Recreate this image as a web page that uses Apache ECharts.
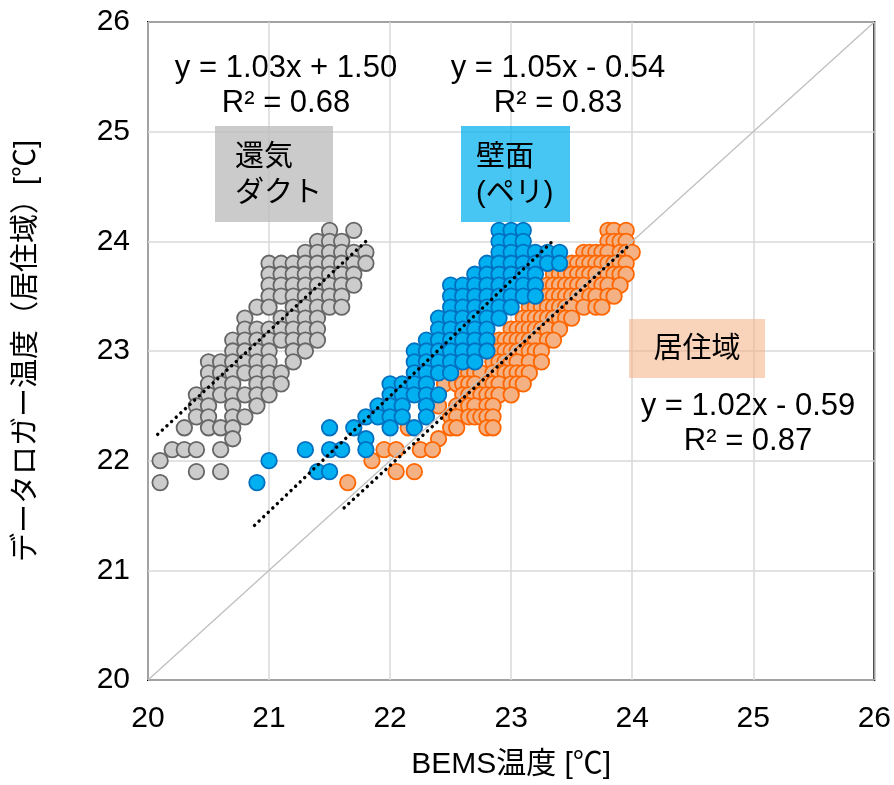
<!DOCTYPE html>
<html>
<head>
<meta charset="utf-8">
<script src="https://cdn.jsdelivr.net/npm/echarts@6/dist/echarts.min.js"></script>
<style>
  html, body { margin: 0; padding: 0; background: #fff; }
  #chart { width: 894px; height: 785px; }
</style>
</head>
<body>
<div id="chart"></div>
<script>
// 還気ダクト [BEMS, logger]
var grayPoints = [
  [21.5, 24.1], [21.7, 24.1],
  [21.4, 24.0], [21.5, 24.0], [21.6, 24.0],
  [21.3, 23.9], [21.4, 23.9], [21.5, 23.9], [21.6, 23.9], [21.7, 23.9], [21.8, 23.9],
  [21.0, 23.8], [21.1, 23.8], [21.2, 23.8], [21.3, 23.8], [21.4, 23.8], [21.5, 23.8], [21.6, 23.8], [21.7, 23.8], [21.8, 23.8],
  [21.0, 23.7], [21.1, 23.7], [21.2, 23.7], [21.3, 23.7], [21.4, 23.7], [21.5, 23.7], [21.6, 23.7], [21.7, 23.7],
  [21.0, 23.6], [21.1, 23.6], [21.2, 23.6], [21.3, 23.6], [21.4, 23.6], [21.5, 23.6], [21.6, 23.6], [21.7, 23.6],
  [21.0, 23.5], [21.1, 23.5], [21.2, 23.5], [21.3, 23.5], [21.4, 23.5], [21.5, 23.5], [21.6, 23.5],
  [20.9, 23.4], [21.0, 23.4], [21.2, 23.4], [21.3, 23.4], [21.4, 23.4], [21.5, 23.4], [21.6, 23.4],
  [20.8, 23.3], [21.1, 23.3], [21.2, 23.3], [21.3, 23.3], [21.4, 23.3],
  [20.8, 23.2], [20.9, 23.2], [21.0, 23.2], [21.1, 23.2], [21.2, 23.2], [21.3, 23.2], [21.4, 23.2],
  [20.7, 23.1], [20.8, 23.1], [20.9, 23.1], [21.0, 23.1], [21.1, 23.1], [21.2, 23.1], [21.3, 23.1], [21.4, 23.1],
  [20.7, 23.0], [20.8, 23.0], [20.9, 23.0], [21.0, 23.0], [21.2, 23.0], [21.3, 23.0],
  [20.5, 22.9], [20.6, 22.9], [20.7, 22.9], [20.8, 22.9], [20.9, 22.9], [21.0, 22.9], [21.2, 22.9],
  [20.5, 22.8], [20.6, 22.8], [20.7, 22.8], [20.8, 22.8], [20.9, 22.8], [21.0, 22.8], [21.1, 22.8],
  [20.5, 22.7], [20.6, 22.7], [20.7, 22.7], [20.9, 22.7], [21.0, 22.7], [21.1, 22.7],
  [20.4, 22.6], [20.5, 22.6], [20.6, 22.6], [20.7, 22.6], [20.8, 22.6], [20.9, 22.6], [21.0, 22.6],
  [20.4, 22.5], [20.5, 22.5], [20.7, 22.5], [20.9, 22.5],
  [20.4, 22.4], [20.5, 22.4], [20.7, 22.4], [20.8, 22.4],
  [20.3, 22.3], [20.5, 22.3], [20.6, 22.3], [20.7, 22.3],
  [20.7, 22.2],
  [20.2, 22.1], [20.3, 22.1], [20.4, 22.1], [20.6, 22.1],
  [20.1, 22.0],
  [20.4, 21.9], [20.6, 21.9],
  [20.1, 21.8]
]

// 壁面(ペリ)
var bluePoints = [
  [22.9, 24.1], [23.0, 24.1], [23.1, 24.1],
  [22.9, 24.0], [23.0, 24.0], [23.1, 24.0],
  [22.9, 23.9], [23.0, 23.9], [23.1, 23.9], [23.2, 23.9], [23.3, 23.9], [23.4, 23.9],
  [22.8, 23.8], [22.9, 23.8], [23.0, 23.8], [23.1, 23.8], [23.2, 23.8], [23.3, 23.8], [23.4, 23.8],
  [22.7, 23.7], [22.8, 23.7], [22.9, 23.7], [23.0, 23.7], [23.1, 23.7], [23.2, 23.7],
  [22.5, 23.6], [22.6, 23.6], [22.7, 23.6], [22.8, 23.6], [22.9, 23.6], [23.0, 23.6], [23.1, 23.6], [23.2, 23.6],
  [22.5, 23.5], [22.6, 23.5], [22.7, 23.5], [22.8, 23.5], [22.9, 23.5], [23.0, 23.5], [23.1, 23.5], [23.2, 23.5],
  [22.5, 23.4], [22.6, 23.4], [22.7, 23.4], [22.8, 23.4], [22.9, 23.4], [23.0, 23.4],
  [22.4, 23.3], [22.5, 23.3], [22.6, 23.3], [22.7, 23.3], [22.8, 23.3], [22.9, 23.3],
  [22.4, 23.2], [22.5, 23.2], [22.6, 23.2], [22.7, 23.2], [22.8, 23.2],
  [22.3, 23.1], [22.4, 23.1], [22.5, 23.1], [22.6, 23.1], [22.7, 23.1], [22.8, 23.1],
  [22.2, 23.0], [22.3, 23.0], [22.4, 23.0], [22.5, 23.0], [22.6, 23.0], [22.7, 23.0], [22.8, 23.0],
  [22.2, 22.9], [22.3, 22.9], [22.4, 22.9], [22.5, 22.9], [22.6, 22.9], [22.7, 22.9],
  [22.2, 22.8], [22.3, 22.8], [22.4, 22.8], [22.5, 22.8],
  [22.0, 22.7], [22.1, 22.7], [22.2, 22.7], [22.3, 22.7],
  [22.0, 22.6], [22.1, 22.6], [22.2, 22.6], [22.3, 22.6], [22.4, 22.6],
  [21.9, 22.5], [22.0, 22.5], [22.1, 22.5], [22.3, 22.5],
  [21.8, 22.4], [21.9, 22.4], [22.0, 22.4], [22.1, 22.4], [22.3, 22.4],
  [21.5, 22.3], [21.7, 22.3], [22.0, 22.3], [22.2, 22.3],
  [21.8, 22.2],
  [21.3, 22.1], [21.5, 22.1], [21.6, 22.1], [21.8, 22.1],
  [21.0, 22.0],
  [21.4, 21.9], [21.5, 21.9],
  [20.9, 21.8]
]

// 居住域
var orangePoints = [
  [23.8, 24.1], [23.85, 24.1], [23.95, 24.1],
  [23.8, 24.0], [23.85, 24.0], [23.9, 24.0], [23.95, 24.0],
  [23.6, 23.9], [23.65, 23.9], [23.7, 23.9], [23.75, 23.9], [23.8, 23.9], [23.9, 23.9], [23.95, 23.9], [24.0, 23.9],
  [23.5, 23.8], [23.55, 23.8], [23.6, 23.8], [23.65, 23.8], [23.7, 23.8], [23.75, 23.8], [23.8, 23.8], [23.85, 23.8], [23.9, 23.8], [23.95, 23.8],
  [23.35, 23.7], [23.4, 23.7], [23.45, 23.7], [23.5, 23.7], [23.55, 23.7], [23.6, 23.7], [23.65, 23.7], [23.7, 23.7], [23.8, 23.7], [23.85, 23.7], [23.9, 23.7], [23.95, 23.7],
  [23.3, 23.6], [23.35, 23.6], [23.4, 23.6], [23.45, 23.6], [23.5, 23.6], [23.55, 23.6], [23.6, 23.6], [23.7, 23.6], [23.75, 23.6], [23.8, 23.6], [23.9, 23.6],
  [23.2, 23.5], [23.25, 23.5], [23.3, 23.5], [23.35, 23.5], [23.4, 23.5], [23.45, 23.5], [23.5, 23.5], [23.55, 23.5], [23.65, 23.5], [23.7, 23.5], [23.8, 23.5], [23.85, 23.5],
  [23.15, 23.4], [23.2, 23.4], [23.25, 23.4], [23.3, 23.4], [23.35, 23.4], [23.4, 23.4], [23.45, 23.4], [23.5, 23.4], [23.6, 23.4], [23.7, 23.4], [23.75, 23.4],
  [23.1, 23.3], [23.15, 23.3], [23.2, 23.3], [23.25, 23.3], [23.3, 23.3], [23.35, 23.3], [23.4, 23.3], [23.45, 23.3], [23.5, 23.3],
  [23.0, 23.2], [23.05, 23.2], [23.1, 23.2], [23.15, 23.2], [23.2, 23.2], [23.25, 23.2], [23.3, 23.2], [23.4, 23.2],
  [22.9, 23.1], [22.95, 23.1], [23.0, 23.1], [23.05, 23.1], [23.1, 23.1], [23.15, 23.1], [23.2, 23.1], [23.3, 23.1], [23.35, 23.1],
  [22.85, 23.0], [22.9, 23.0], [22.95, 23.0], [23.0, 23.0], [23.05, 23.0], [23.1, 23.0], [23.15, 23.0], [23.2, 23.0], [23.25, 23.0],
  [22.85, 22.9], [22.9, 22.9], [22.95, 22.9], [23.0, 22.9], [23.05, 22.9], [23.15, 22.9], [23.25, 22.9],
  [22.55, 22.8], [22.6, 22.8], [22.65, 22.8], [22.7, 22.8], [22.75, 22.8], [22.85, 22.8], [22.9, 22.8], [22.95, 22.8], [23.0, 22.8], [23.05, 22.8], [23.1, 22.8], [23.15, 22.8],
  [22.45, 22.7], [22.55, 22.7], [22.6, 22.7], [22.65, 22.7], [22.7, 22.7], [22.8, 22.7], [22.85, 22.7], [22.9, 22.7], [23.0, 22.7], [23.05, 22.7], [23.1, 22.7],
  [22.6, 22.6], [22.65, 22.6], [22.7, 22.6], [22.75, 22.6], [22.8, 22.6], [22.85, 22.6], [22.9, 22.6], [23.0, 22.6],
  [22.4, 22.5], [22.55, 22.5], [22.6, 22.5], [22.65, 22.5], [22.7, 22.5], [22.8, 22.5], [22.85, 22.5],
  [22.5, 22.4], [22.55, 22.4], [22.65, 22.4], [22.7, 22.4], [22.75, 22.4], [22.8, 22.4], [22.85, 22.4],
  [22.15, 22.3], [22.5, 22.3], [22.55, 22.3], [22.8, 22.3], [22.85, 22.3],
  [22.4, 22.2],
  [21.95, 22.1], [22.05, 22.1], [22.25, 22.1], [22.35, 22.1],
  [21.85, 22.0],
  [22.05, 21.9], [22.2, 21.9],
  [21.65, 21.8]
]

// 近似直線の両端
var grayTrend = [[20.08, 22.24], [21.8, 24.0]]
var blueTrend = [[20.88, 21.41], [23.36, 24.02]]
var orangeTrend = [[21.62, 21.57], [23.99, 23.98]]
var diagonal = [[20, 20], [26, 26]]

var axisMin = 20
var axisMax = 26
var axisStep = 1

var fontFamily = '"Liberation Sans", Arial, "Noto Sans CJK JP", sans-serif'

function pointSeries (name, data, fill, border) {
  return {
    name: name,
    type: 'scatter',
    data: data,
    symbol: 'circle',
    symbolSize: 15.5,
    itemStyle: {
      color: fill,
      borderColor: border,
      borderWidth: 1.8,
      opacity: 1
    },
    emphasis: { disabled: true },
    silent: true
  }
}

function trendSeries (data) {
  return {
    type: 'line',
    data: data,
    symbol: 'none',
    silent: true,
    z: 5,
    lineStyle: {
      color: '#000',
      width: 3.4,
      type: [0.1, 6.2],
      cap: 'round'
    }
  }
}

var chart = echarts.init(document.getElementById('chart'), null, { renderer: 'canvas' })

var option = {
  animation: false,
  backgroundColor: '#fff',
  textStyle: { fontFamily: fontFamily },
  grid: {
    left: 148,
    right: 18,
    top: 22,
    bottom: 101,
    show: true,
    borderColor: '#000',
    borderWidth: 2,
    backgroundColor: 'transparent'
  },
  xAxis: {
    type: 'value',
    min: axisMin,
    max: axisMax,
    interval: axisStep,
    name: 'BEMS温度 [℃]',
    nameLocation: 'middle',
    nameGap: 70,
    nameTextStyle: { color: '#000', fontSize: 30, fontFamily: fontFamily },
    axisLine: { show: false },
    axisTick: { show: false },
    axisLabel: { color: '#000', fontSize: 30, margin: 24, fontFamily: fontFamily },
    splitLine: { show: true, lineStyle: { color: '#d9d9d9', width: 1.5 } }
  },
  yAxis: {
    type: 'value',
    min: axisMin,
    max: axisMax,
    interval: axisStep,
    name: 'データロガー温度（居住域）[℃]',
    nameLocation: 'middle',
    nameGap: 106,
    nameTextStyle: { color: '#000', fontSize: 29, fontFamily: fontFamily },
    axisLine: { show: false },
    axisTick: { show: false },
    axisLabel: { color: '#000', fontSize: 30, margin: 18, fontFamily: fontFamily },
    splitLine: { show: true, lineStyle: { color: '#d9d9d9', width: 1.5 } }
  },
  graphic: [
    { type: 'rect', shape: { x: 215, y: 126, width: 118, height: 96 }, style: { fill: 'rgba(190,190,190,0.8)' }, z: 1 },
    { type: 'text', left: 235, top: 140, style: { text: '還気\nダクト', font: '29px ' + fontFamily, lineHeight: 36, fill: '#000' }, z: 10 },
    { type: 'rect', shape: { x: 461, y: 126, width: 109, height: 96 }, style: { fill: 'rgba(0,176,240,0.72)' }, z: 1 },
    { type: 'text', left: 476, top: 140, style: { text: '壁面\n(ペリ)', font: '29px ' + fontFamily, lineHeight: 36, fill: '#000' }, z: 10 },
    { type: 'rect', shape: { x: 629, y: 319, width: 136, height: 59 }, style: { fill: 'rgba(244,177,131,0.55)' }, z: 1 },
    { type: 'text', x: 697, y: 350, style: { text: '居住域', font: '29px ' + fontFamily, fill: '#000', align: 'center', verticalAlign: 'middle' }, z: 10 },
    { type: 'text', x: 286, y: 86, style: { text: 'y = 1.03x + 1.50\nR² = 0.68', font: '31px ' + fontFamily, lineHeight: 35, fill: '#000', align: 'center', verticalAlign: 'middle' }, z: 10 },
    { type: 'text', x: 558, y: 86, style: { text: 'y = 1.05x - 0.54\nR² = 0.83', font: '31px ' + fontFamily, lineHeight: 35, fill: '#000', align: 'center', verticalAlign: 'middle' }, z: 10 },
    { type: 'text', x: 748, y: 424, style: { text: 'y = 1.02x - 0.59\nR² = 0.87', font: '31px ' + fontFamily, lineHeight: 35, fill: '#000', align: 'center', verticalAlign: 'middle' }, z: 10 }
  ],
  series: [
    pointSeries('居住域', orangePoints, '#f4b183', '#ff6600'),
    {
      type: 'line',
      data: diagonal,
      symbol: 'none',
      silent: true,
      z: 3,
      lineStyle: { color: '#bfbfbf', width: 1.3 }
    },
    pointSeries('還気ダクト', grayPoints, '#cccccc', '#666666'),
    pointSeries('壁面(ペリ)', bluePoints, '#00b0f0', '#0070c0'),
    trendSeries(grayTrend),
    trendSeries(blueTrend),
    trendSeries(orangeTrend)
  ]
}

chart.setOption(option)
</script>
</body>
</html>
